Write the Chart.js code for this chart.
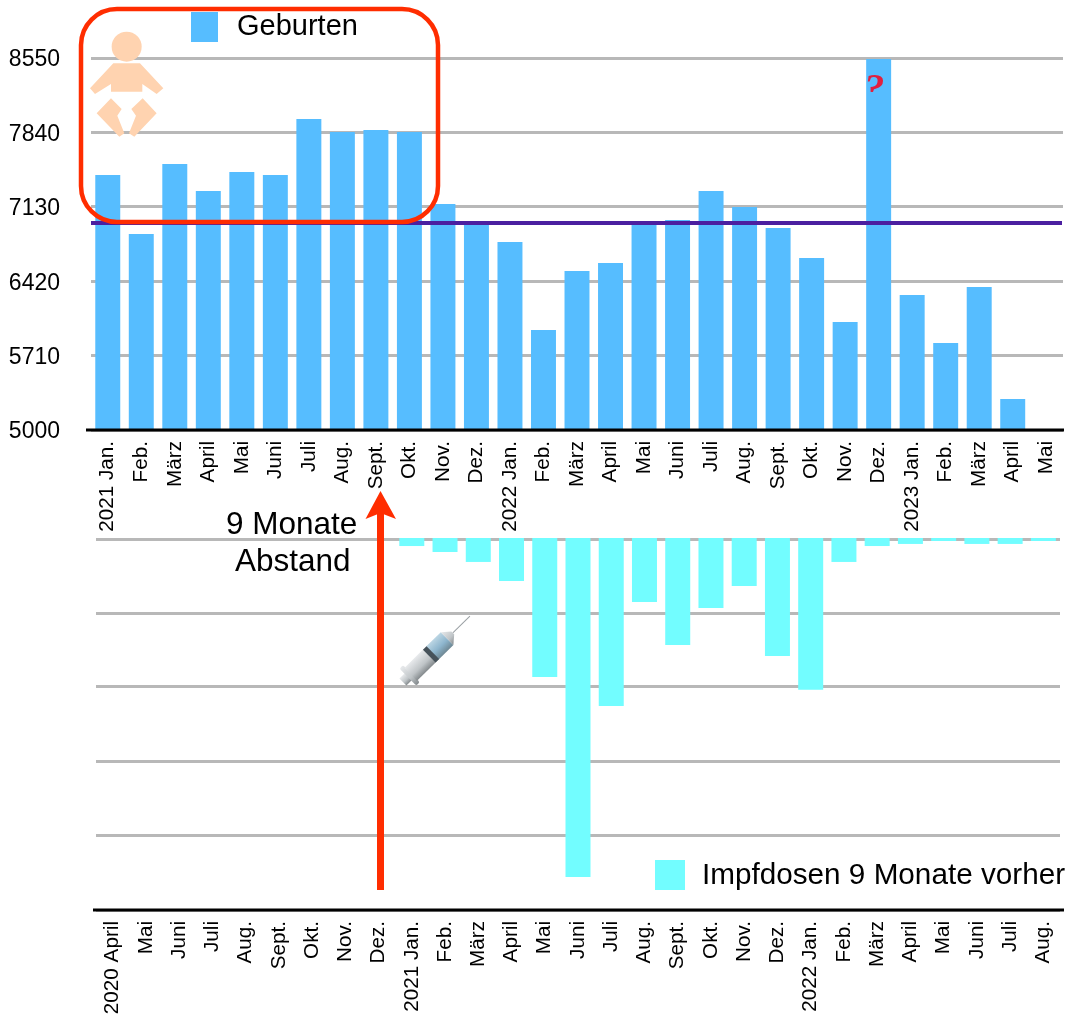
<!DOCTYPE html>
<html lang="de">
<head>
<meta charset="utf-8">
<title>Geburten und Impfdosen</title>
<script src="https://cdn.jsdelivr.net/npm/chart.js@4"></script>
<style>
    html, body { margin: 0; padding: 0; background: #fff; }
    #page { position: relative; width: 1069px; height: 1021px; overflow: hidden; font-family: "Liberation Sans", Arial, sans-serif; color: #000; }
    canvas, svg { position: absolute; left: 0; }
    .label { position: absolute; white-space: pre; line-height: 1; }
    .swatch { position: absolute; }
</style>
</head>
<body>
<div id="page">
    <canvas id="birthChart" width="1069" height="540" style="top:0"></canvas>
    <canvas id="doseChart" width="1069" height="501" style="top:520px"></canvas>

    <!-- Legenden und Beschriftungen -->
    <div class="swatch" style="left:191px;top:12px;width:27px;height:30px;background:#56bdff"></div>
    <div class="label" style="left:237px;top:11px;font-size:29px">Geburten</div>
    <div class="swatch" style="left:655px;top:860px;width:30px;height:30px;background:#72fdff"></div>
    <div class="label" style="left:702px;top:859px;font-size:29.7px">Impfdosen 9 Monate vorher</div>
    <div class="label" style="left:226px;top:508px;font-size:31.5px">9 Monate</div>
    <div class="label" style="left:235px;top:545px;font-size:31.5px">Abstand</div>

    <!-- Fragezeichen im Dezember-Balken -->
    <div style="position:absolute;left:862px;top:68px;width:26px;height:24px;overflow:hidden">
        <div class="label" style="left:2px;top:-5px;font:italic bold 41px 'Liberation Serif',serif;color:#e0203f">?</div>
    </div>

    <svg width="1069" height="1021" style="top:0">
        <defs>
            <linearGradient id="barrel" x1="0" y1="0" x2="0" y2="1">
                <stop offset="0" stop-color="#bcd6e4"/>
                <stop offset="0.55" stop-color="#8db5cd"/>
                <stop offset="1" stop-color="#6f8894"/>
            </linearGradient>
            <linearGradient id="metal" x1="0" y1="0" x2="0" y2="1">
                <stop offset="0" stop-color="#e8eaec"/>
                <stop offset="0.6" stop-color="#bfc4c7"/>
                <stop offset="1" stop-color="#83898c"/>
            </linearGradient>
        </defs>

        <!-- Baby -->
        <g transform="scale(0.3333)" fill="#ffd3b0">
            <circle cx="380" cy="140" r="45"/>
            <polygon points="340,190 420,190 490,265 470,282 427,252 427,275 333,275 333,252 285,282 270,265"/>
            <polygon points="333,295 365,327 352,347 373,400 358,410 290,340"/>
            <polygon points="428,295 470,340 403,410 387,400 408,347 394,327"/>
        </g>

        <!-- Rahmen -->
        <rect x="81" y="9" width="357" height="213" rx="36" ry="36" fill="none" stroke="#ff2d00" stroke-width="4.5"/>

        <!-- Pfeil -->
        <rect x="377" y="510" width="7" height="380" fill="#ff2d00"/>
        <polygon points="380.5,491 396,519 380.5,513 365.5,519" fill="#ff2d00"/>

        <!-- Spritze -->
        <g transform="translate(410,675) rotate(-44.5)">
            <line x1="60" y1="0" x2="84" y2="0" stroke="#9aa0a4" stroke-width="1"/>
            <rect x="-10" y="-5" width="10" height="10" fill="url(#metal)"/>
            <rect x="-3" y="-12" width="5" height="24" rx="2" fill="url(#metal)"/>
            <rect x="1" y="-9" width="30" height="18" fill="url(#metal)"/>
            <rect x="31" y="-9" width="21" height="18" fill="url(#barrel)"/>
            <rect x="27" y="-9" width="5" height="18" fill="#46525a"/>
            <polygon points="52,-9 60,-2 60,2 52,9" fill="url(#metal)"/>
        </g>
    </svg>
</div>

<script>
// Geburten pro Monat, 2021 Jan. bis 2023 Mai
const birthMonths = [
    '2021 Jan.', 'Feb.', 'März', 'April', 'Mai', 'Juni', 'Juli', 'Aug.', 'Sept.', 'Okt.', 'Nov.', 'Dez.',
    '2022 Jan.', 'Feb.', 'März', 'April', 'Mai', 'Juni', 'Juli', 'Aug.', 'Sept.', 'Okt.', 'Nov.', 'Dez.',
    '2023 Jan.', 'Feb.', 'März', 'April', 'Mai'
];
const birthValues = [
    7433, 6870, 7538, 7281, 7462, 7433, 7968, 7844, 7863, 7844, 7157, 6966,
    6794, 5954, 6517, 6594, 6956, 7004, 7281, 7128, 6928, 6641, 6031, 8540,
    6288, 5830, 6365, 5296, 5000
];
const birthMean = 6975;
const birthTicks = [5000, 5710, 6420, 7130, 7840, 8550];

// Impfdosen (Mio., geschätzt), um 9 Monate versetzt
const doseMonths = [
    '2020 April', 'Mai', 'Juni', 'Juli', 'Aug.', 'Sept.', 'Okt.', 'Nov.', 'Dez.',
    '2021 Jan.', 'Feb.', 'März', 'April', 'Mai', 'Juni', 'Juli', 'Aug.', 'Sept.', 'Okt.', 'Nov.', 'Dez.',
    '2022 Jan.', 'Feb.', 'März', 'April', 'Mai', 'Juni', 'Juli', 'Aug.'
];
const doseValues = [
    null, null, null, null, null, null, null, null, null,
    0.54, 0.94, 1.61, 2.89, 9.34, 22.78, 11.29, 4.3, 7.19, 4.7, 3.23, 7.93,
    10.2, 1.61, 0.54, 0.4, 0.2, 0.4, 0.4, 0.2
];
// erste Linie knapp unter 0, damit die Balken sie überdecken
const doseTicks = [0.1, 5.1, 9.95, 15, 20, 25];

const gridColor = '#b8b8b8';

// Schwarze Grundlinie (steht etwas über) und Mittelwert-Linie
const extrasPlugin = {
    id: 'extras',
    afterDatasetsDraw(chart, args, opts) {
        const { ctx, chartArea, scales } = chart;
        ctx.save();
        if (opts.mean !== undefined) {
            const y = scales.y.getPixelForValue(opts.mean);
            ctx.strokeStyle = '#4b1fa0';
            ctx.lineWidth = 4;
            ctx.beginPath();
            ctx.moveTo(chartArea.left, y);
            ctx.lineTo(chartArea.right - 1, y);
            ctx.stroke();
        }
        ctx.strokeStyle = '#000';
        ctx.lineWidth = 3;
        ctx.beginPath();
        ctx.moveTo(chartArea.left - opts.overhangLeft, chartArea.bottom);
        ctx.lineTo(chartArea.right + opts.overhangRight, chartArea.bottom);
        ctx.stroke();
        ctx.restore();
    }
};

function monthAxis(labelPadding, axisHeight) {
    return {
        grid: { display: false },
        border: { display: false },
        ticks: {
            autoSkip: false,
            minRotation: 90,
            maxRotation: 90,
            padding: labelPadding,
            color: '#000',
            font: { family: '"Liberation Sans"', size: 20.7 }
        },
        afterFit(scale) {
            scale.height = axisHeight;
            // sonst schrumpft die Fläche wegen der gedrehten Randbeschriftungen
            scale.paddingLeft = 0;
            scale.paddingRight = 0;
        }
    };
}

function renderBirthChart() {
    const ctx = document.getElementById('birthChart').getContext('2d');
    return new Chart(ctx, {
        type: 'bar',
        data: {
            labels: birthMonths,
            datasets: [{ label: 'Geburten', data: birthValues, backgroundColor: '#56bdff', barPercentage: 0.745, categoryPercentage: 1 }]
        },
        plugins: [extrasPlugin],
        options: {
            responsive: false,
            animation: false,
            layout: { padding: { top: 58, right: 6, left: 0, bottom: 0 } },
            plugins: {
                legend: { display: false },
                tooltip: { enabled: false },
                extras: { mean: birthMean, overhangLeft: 5, overhangRight: 1 }
            },
            scales: {
                x: monthAxis(3, 110),
                y: {
                    min: 5000,
                    max: 8550,
                    afterBuildTicks(scale) { scale.ticks = birthTicks.map(v => ({ value: v })); },
                    grid: { color: gridColor, lineWidth: 3, drawTicks: false },
                    border: { display: false },
                    ticks: {
                        padding: 31,
                        labelOffset: 2,
                        color: '#000',
                        font: { family: '"Liberation Sans"', size: 23 },
                        callback: value => String(value)
                    },
                    afterFit(scale) { scale.width = 91; }
                }
            }
        }
    });
}

function renderDoseChart() {
    const ctx = document.getElementById('doseChart').getContext('2d');
    return new Chart(ctx, {
        type: 'bar',
        data: {
            labels: doseMonths,
            datasets: [{ label: 'Impfdosen 9 Monate vorher', data: doseValues, backgroundColor: '#72fdff', barPercentage: 0.752, categoryPercentage: 1 }]
        },
        plugins: [extrasPlugin],
        options: {
            responsive: false,
            animation: false,
            layout: { padding: { top: 18, right: 9, left: 0, bottom: 0 } },
            plugins: {
                legend: { display: false },
                tooltip: { enabled: false },
                extras: { overhangLeft: 3, overhangRight: 4 }
            },
            scales: {
                x: monthAxis(3, 111),
                y: {
                    reverse: true,
                    min: 0,
                    max: 25,
                    afterBuildTicks(scale) { scale.ticks = doseTicks.map(v => ({ value: v })); },
                    grid: { color: gridColor, lineWidth: 3, drawTicks: false },
                    border: { display: false },
                    ticks: { display: false },
                    afterFit(scale) { scale.width = 96; }
                }
            }
        }
    });
}

renderBirthChart();
renderDoseChart();
</script>
</body>
</html>
